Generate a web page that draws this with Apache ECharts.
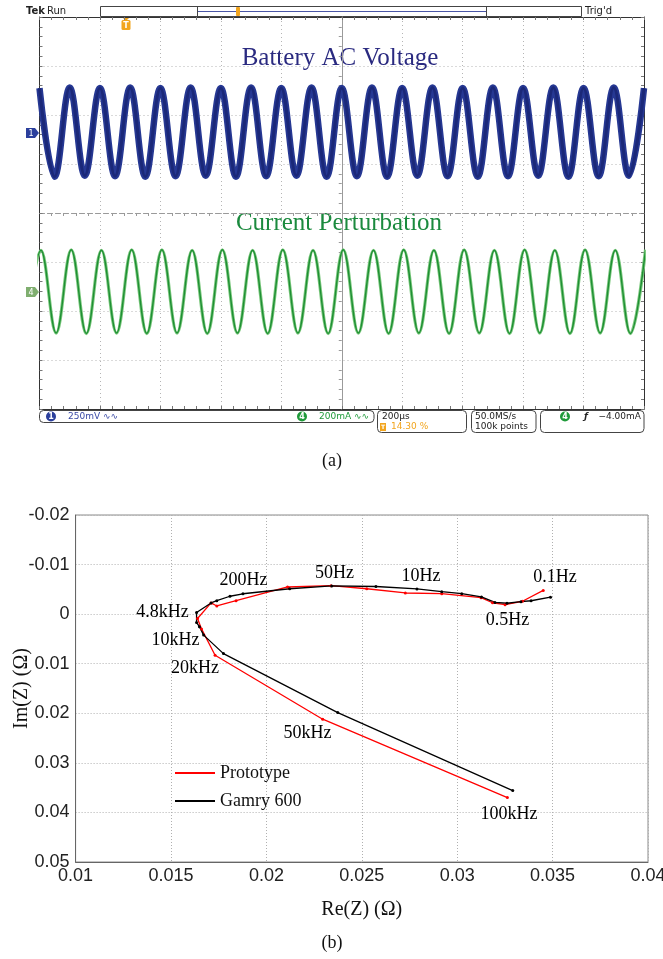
<!DOCTYPE html>
<html><head><meta charset="utf-8">
<script src="https://cdn.jsdelivr.net/npm/echarts/dist/echarts.min.js"></script>
<style>html,body{margin:0;padding:0;background:#fff}#c{width:663px;height:959px}</style>
</head><body><div id="c"></div>
<script>
// ---------- (a) oscilloscope capture: extremes of each trace (time in µs, level in divisions) ----------
const voltageTimes = [-1000,-950,-900,-850,-800,-750,-700,-650,-600,-550,-500,-450,-400,-350,-300,-250,-200,-150,-100,-50,0,50,100,150,200,250,300,350,400,450,500,550,600,650,700,750,800,850,900,950,1000];
const voltageDiv = [2.55,0.74,2.56,0.76,2.55,0.75,2.56,0.74,2.55,0.75,2.56,0.76,2.55,0.74,2.56,0.75,2.55,0.76,2.56,0.74,2.55,0.75,2.56,0.74,2.55,0.76,2.56,0.75,2.55,0.74,2.56,0.75,2.55,0.76,2.56,0.74,2.55,0.75,2.56,0.76,2.55];
const currentTimes = [-1045,-995,-945,-895,-845,-795,-745,-695,-645,-595,-545,-495,-445,-395,-345,-295,-245,-195,-145,-95,-45,5,55,105,155,205,255,305,355,405,455,505,555,605,655,705,755,805,855,905,955,1005];
const currentDiv = [-2.46,-0.76,-2.45,-0.75,-2.46,-0.76,-2.45,-0.75,-2.46,-0.75,-2.45,-0.76,-2.46,-0.75,-2.45,-0.76,-2.46,-0.75,-2.45,-0.76,-2.46,-0.75,-2.45,-0.76,-2.46,-0.75,-2.45,-0.76,-2.46,-0.75,-2.45,-0.76,-2.46,-0.75,-2.45,-0.76,-2.46,-0.75,-2.45,-0.76,-2.46,-0.75];

// ---------- (b) Nyquist plot ----------
const gamryRe = [0.03489,0.03387,0.03334,0.03261,0.03198,0.03127,0.03024,0.02919,0.02789,0.02574,0.02342,0.02122,0.01877,0.01809,0.01740,0.01710,0.01634,0.01634,0.01649,0.01671,0.01775,0.02374,0.03291];
const gamryIm = [-0.00343,-0.00270,-0.00252,-0.00220,-0.00236,-0.00347,-0.00413,-0.00454,-0.00508,-0.00558,-0.00569,-0.00512,-0.00411,-0.00361,-0.00272,-0.00226,-0.00034,0.00171,0.00252,0.00423,0.00796,0.01986,0.03559];
const protoRe = [0.03451,0.03342,0.03251,0.03185,0.03125,0.02919,0.02728,0.02526,0.02339,0.02111,0.01841,0.01740,0.01710,0.01639,0.01660,0.01731,0.02295,0.03263];
const protoIm = [-0.00478,-0.00260,-0.00192,-0.00230,-0.00333,-0.00413,-0.00427,-0.00512,-0.00575,-0.00548,-0.00272,-0.00165,-0.00226,0.00087,0.00298,0.00829,0.02119,0.03700];
const freqLabels = ['0.1Hz','10Hz','50Hz','200Hz','4.8kHz','0.5Hz','10kHz','20kHz','50kHz','100kHz'];
const freqLabelRe = [0.03513,0.0281,0.02357,0.0188,0.01455,0.03264,0.01524,0.01626,0.02215,0.03271];
const freqLabelIm = [-0.0075,-0.0077,-0.0083,-0.0069,-0.00044,0.00117,0.0052,0.01085,0.024,0.0403];
const seriesNames = ['Prototype','Gamry 600'];

const zip = (a,b) => a.map((v,i)=>[v,b[i]]);
const SERIF = '"Liberation Serif","Times New Roman",serif';
const SANS = '"Liberation Sans",Arial,sans-serif';
const MONO = '"DejaVu Sans",sans-serif';

const chart = echarts.init(document.getElementById('c'), null, {renderer:'canvas'});

const dotted = {show:true, lineStyle:{color:'#b5b5b5', type:[1,3], width:1}};
const frameAxis = (pos, isX, interval) => ({
  gridIndex:0, type:'value', position:pos, min: isX?-1000:-4, max: isX?1000:4, interval: interval,
  axisLine:{show:true, onZero:false, lineStyle:{color:'#333', width:1}},
  axisTick:{show:true, inside:true, length:3, lineStyle:{color:'#777'}},
  axisLabel:{show:false}, splitLine:{show:false}
});

const option = {
  animation:false,
  backgroundColor:'#fff',
  grid:[
    {left:39.5, top:17, width:604.5, height:392, show:false, containLabel:false, outerBoundsMode:'none'},
    {left:75.6, top:515, width:572.4, height:347, show:true, borderColor:'#8a8a8a', borderWidth:1, containLabel:false, outerBoundsMode:'none'}
  ],
  xAxis:[
    {gridIndex:0, type:'value', min:-1000, max:1000, interval:200,
     axisLine:{show:true, onZero:true, lineStyle:{color:'#9a9a9a', type:[5,3]}},
     axisTick:{show:false}, minorTick:{show:true, splitNumber:5, length:3, lineStyle:{color:'#9a9a9a'}},
     axisLabel:{show:false}, splitLine:dotted},
    frameAxis('bottom', true, 40),
    frameAxis('top', true, 40),
    {gridIndex:1, type:'value', min:0.01, max:0.04, interval:0.005,
     axisLine:{show:true, onZero:false, lineStyle:{color:'#666'}},
     axisTick:{show:false},
     axisLabel:{fontFamily:SANS, fontSize:18, color:'#222', margin:5},
     splitLine:{show:true, lineStyle:{color:'#b0b0b0', type:[1,2]}},
     name:'Re(Z) (Ω)', nameLocation:'middle', nameGap:38, nameMoveOverlap:false,
     nameTextStyle:{fontFamily:SERIF, fontSize:20, color:'#111'}}
  ],
  yAxis:[
    {gridIndex:0, type:'value', min:-4, max:4, interval:1,
     axisLine:{show:true, onZero:true, lineStyle:{color:'#9a9a9a'}},
     axisTick:{show:false}, minorTick:{show:true, splitNumber:5, length:3, lineStyle:{color:'#9a9a9a'}},
     axisLabel:{show:false}, splitLine:dotted},
    frameAxis('left', false, 0.2),
    frameAxis('right', false, 0.2),
    {gridIndex:1, type:'value', inverse:true, min:-0.02, max:0.05, interval:0.01,
     axisLine:{show:true, onZero:false, lineStyle:{color:'#666'}},
     axisTick:{show:false},
     axisLabel:{fontFamily:SANS, fontSize:18, color:'#222', margin:6},
     splitLine:{show:true, lineStyle:{color:'#b0b0b0', type:[1,2]}},
     name:'Im(Z) (Ω)', nameLocation:'middle', nameGap:44, nameRotate:90, nameMoveOverlap:false,
     nameTextStyle:{fontFamily:SERIF, fontSize:20, color:'#111'}}
  ],
  legend:{
    data:seriesNames, orient:'vertical', left:175, top:764, padding:0, itemGap:10,
    itemWidth:40, itemHeight:2, icon:'rect',
    textStyle:{fontFamily:SERIF, fontSize:18, color:'#111'}
  },
  series:[
    {type:'line', xAxisIndex:0, yAxisIndex:0, data:zip(voltageTimes, voltageDiv), smooth:0.38,
     showSymbol:false, silent:true, lineStyle:{color:'#263893', width:6.5}},
    {type:'line', xAxisIndex:0, yAxisIndex:0, data:zip(voltageTimes, voltageDiv), smooth:0.38,
     showSymbol:false, silent:true, lineStyle:{color:'#1b2878', width:3}},
    {type:'line', xAxisIndex:0, yAxisIndex:0, data:zip(currentTimes, currentDiv), smooth:0.38,
     showSymbol:false, silent:true, lineStyle:{color:'#7cc87e', width:3.2}},
    {type:'line', xAxisIndex:0, yAxisIndex:0, data:zip(currentTimes, currentDiv), smooth:0.38,
     showSymbol:false, silent:true, lineStyle:{color:'#1f9034', width:1.4}},
    {name:seriesNames[0], type:'line', xAxisIndex:3, yAxisIndex:3, data:zip(protoRe, protoIm),
     symbol:'circle', symbolSize:3, color:'#ff0000', lineStyle:{color:'#ff0000', width:1.3}, itemStyle:{color:'#ff0000'}},
    {name:seriesNames[1], type:'line', xAxisIndex:3, yAxisIndex:3, data:zip(gamryRe, gamryIm),
     symbol:'circle', symbolSize:3, color:'#000', lineStyle:{color:'#000', width:1.3}, itemStyle:{color:'#000'}},
    {type:'scatter', xAxisIndex:3, yAxisIndex:3, symbolSize:1, silent:true, itemStyle:{color:'rgba(0,0,0,0)'},
     data:freqLabels.map((n,i)=>({name:n, value:[freqLabelRe[i], freqLabelIm[i]]})),
     label:{show:true, position:'inside', formatter:'{b}', fontFamily:SERIF, fontSize:18, color:'#000',
            textBorderWidth:0, textBorderColor:'transparent', opacity:1}}
  ],
  graphic:[
    {type:'text', x:340, y:58, style:{text:'Battery AC Voltage', font:'25px '+SERIF, fill:'#2a2a80', textAlign:'center', textVerticalAlign:'middle'}},
    {type:'text', x:339, y:223, style:{text:'Current Perturbation', font:'25px '+SERIF, fill:'#1b8a3e', textAlign:'center', textVerticalAlign:'middle'}},
    {type:'text', x:26, y:11.5, style:{text:'Tek', font:'bold 10px '+MONO, fill:'#222', textVerticalAlign:'middle'}},
    {type:'text', x:47, y:11.5, style:{text:'Run', font:'10px '+MONO, fill:'#222', textVerticalAlign:'middle'}},
    {type:'rect', shape:{x:100.5, y:6.5, width:481, height:10}, style:{fill:'#fff', stroke:'#444', lineWidth:1}},
    {type:'rect', shape:{x:197.5, y:6.5, width:289, height:10}, style:{fill:'none', stroke:'#444', lineWidth:1}},
    {type:'line', shape:{x1:198, y1:11.5, x2:486, y2:11.5}, style:{stroke:'#4a56a6', lineWidth:1}},
    {type:'rect', shape:{x:236, y:7, width:4, height:9, r:1}, style:{fill:'#f2a51e'}},
    {type:'text', x:585, y:11.5, style:{text:"Trig'd", font:'10px '+MONO, fill:'#222', textVerticalAlign:'middle'}},
    {type:'polygon', shape:{points:[[122,17],[130,17],[126,21]]}, style:{fill:'#f2a51e'}},
    {type:'rect', shape:{x:121.5, y:20, width:9, height:10, r:1.5}, style:{fill:'#f2a51e'}},
    {type:'text', x:126, y:25.5, style:{text:'T', font:'bold 8px '+MONO, fill:'#fff', textAlign:'center', textVerticalAlign:'middle'}},
    {type:'polygon', shape:{points:[[26,128],[35,128],[39,133],[35,138],[26,138]]}, style:{fill:'#2b3f9c'}},
    {type:'text', x:31, y:133.5, style:{text:'1', font:'8px '+MONO, fill:'#fff', textAlign:'center', textVerticalAlign:'middle'}},
    {type:'polygon', shape:{points:[[26,287],[35,287],[39,292],[35,297],[26,297]]}, style:{fill:'#7fae6f'}},
    {type:'text', x:31, y:292.5, style:{text:'4', font:'8px '+MONO, fill:'#fff', textAlign:'center', textVerticalAlign:'middle'}},
    {type:'rect', shape:{x:39.5, y:410.5, width:334.5, height:12, r:4}, style:{fill:'none', stroke:'#444', lineWidth:1}},
    {type:'rect', shape:{x:377.5, y:410.5, width:89, height:22, r:4}, style:{fill:'none', stroke:'#444', lineWidth:1}},
    {type:'rect', shape:{x:471.5, y:410.5, width:64.5, height:22, r:4}, style:{fill:'none', stroke:'#444', lineWidth:1}},
    {type:'rect', shape:{x:540.5, y:410.5, width:103.5, height:22, r:4}, style:{fill:'none', stroke:'#444', lineWidth:1}},
    {type:'circle', shape:{cx:51, cy:416.5, r:5}, style:{fill:'#2b3f9c'}},
    {type:'text', x:51, y:417, style:{text:'1', font:'bold 8px '+MONO, fill:'#fff', textAlign:'center', textVerticalAlign:'middle'}},
    {type:'text', x:68, y:416.5, style:{text:'250mV ∿∿', font:'9px '+MONO, fill:'#3a4aa6', textVerticalAlign:'middle'}},
    {type:'circle', shape:{cx:302, cy:416.5, r:5}, style:{fill:'#1f9a3a'}},
    {type:'text', x:302, y:417, style:{text:'4', font:'bold 8px '+MONO, fill:'#fff', textAlign:'center', textVerticalAlign:'middle'}},
    {type:'text', x:319, y:416.5, style:{text:'200mA ∿∿', font:'9px '+MONO, fill:'#1f9a3a', textVerticalAlign:'middle'}},
    {type:'text', x:382, y:416.5, style:{text:'200µs', font:'9px '+MONO, fill:'#222', textVerticalAlign:'middle'}},
    {type:'rect', shape:{x:380, y:423, width:6, height:8}, style:{fill:'#f2a51e'}},
    {type:'text', x:383, y:427.5, style:{text:'T', font:'bold 6px '+MONO, fill:'#fff', textAlign:'center', textVerticalAlign:'middle'}},
    {type:'text', x:391, y:427, style:{text:'14.30 %', font:'9px '+MONO, fill:'#f2a51e', textVerticalAlign:'middle'}},
    {type:'text', x:475, y:416.5, style:{text:'50.0MS/s', font:'9px '+MONO, fill:'#222', textVerticalAlign:'middle'}},
    {type:'text', x:475, y:427, style:{text:'100k points', font:'9px '+MONO, fill:'#222', textVerticalAlign:'middle'}},
    {type:'circle', shape:{cx:565, cy:416.5, r:5}, style:{fill:'#1f9a3a'}},
    {type:'text', x:565, y:417, style:{text:'4', font:'bold 8px '+MONO, fill:'#fff', textAlign:'center', textVerticalAlign:'middle'}},
    {type:'text', x:584, y:416.5, style:{text:'ƒ', font:'italic bold 9px '+MONO, fill:'#222', textVerticalAlign:'middle'}},
    {type:'text', x:641, y:416.5, style:{text:'−4.00mA', font:'9px '+MONO, fill:'#222', textAlign:'right', textVerticalAlign:'middle'}},
    {type:'text', x:332, y:461, style:{text:'(a)', font:'18px '+SERIF, fill:'#111', textAlign:'center', textVerticalAlign:'middle'}},
    {type:'text', x:332, y:943, style:{text:'(b)', font:'18px '+SERIF, fill:'#111', textAlign:'center', textVerticalAlign:'middle'}}
  ]
};
chart.setOption(option);
</script>
</body></html>
